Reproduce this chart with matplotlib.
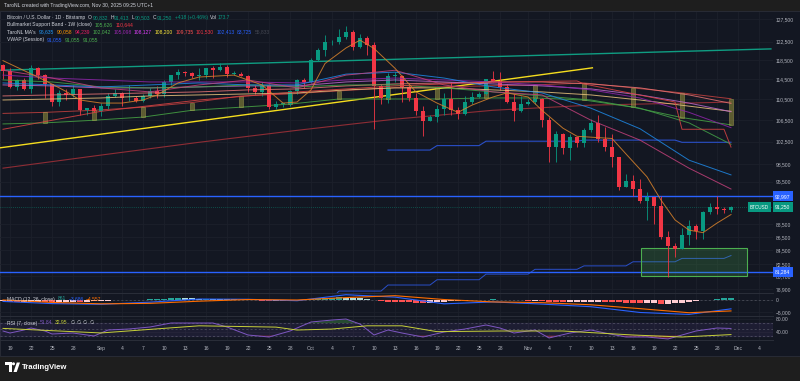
import matplotlib
matplotlib.use("Agg")
import matplotlib.pyplot as plt
from matplotlib.patches import Rectangle, Ellipse, Polygon
from matplotlib.ticker import NullLocator
import numpy as np

plt.rcParams['font.family'] = ['Liberation Sans', 'DejaVu Sans']

W, H = 800, 381
FOND = '#131722'
GRILLE = '#1c202b'
TEXTE = '#b2b5be'
VERT = '#089981'
ROUGE = '#f23645'

# Jours comptés depuis le 19 août 2025 (0 = 19 août). Prix en milliers de dollars.
jours = list(range(-1, 104))
ouv = [117.4, 116.3, 112.9, 114.3, 112.5, 116.9, 115.4, 113.5, 110.1, 111.8, 111.3, 112.6, 108.4, 108.8,
       108.3, 109.2, 111.2, 111.7, 110.7, 110.7, 110.2, 111.1, 112.1, 111.5, 113.9, 115.5, 116.1, 115.9,
       115.3, 115.4, 116.8, 116.5, 117.1, 115.7, 115.7, 115.3, 112.7, 112.0, 113.3, 109.0, 109.7, 109.7,
       112.1, 114.4, 114.0, 118.6, 120.6, 122.3, 122.4, 123.5, 124.7, 121.4, 123.3, 121.7, 113.2, 110.7,
       115.2, 115.3, 113.0, 110.8, 108.2, 106.4, 107.2, 108.7, 110.6, 108.5, 107.6, 110.1, 111.0, 111.6,
       114.5, 114.1, 112.9, 110.0, 108.3, 109.6, 110.1, 110.6, 106.5, 101.5, 103.9, 101.3, 103.4, 102.3,
       104.7, 106.0, 103.0, 101.6, 99.7, 94.5, 95.6, 94.2, 92.2, 92.9, 91.5, 86.6, 85.1, 84.7, 86.8,
       88.3, 87.4, 90.5, 91.3, 90.9, 90.832]
haut = [117.6, 116.8, 114.6, 114.8, 117.4, 117.0, 115.7, 113.6, 112.4, 112.6, 113.3, 112.6, 108.9, 109.5,
        109.9, 111.8, 112.6, 112.0, 113.4, 111.2, 111.6, 112.8, 113.2, 114.3, 115.5, 116.7, 116.3, 116.0,
        116.8, 116.9, 117.3, 117.9, 117.5, 116.2, 116.0, 115.4, 113.3, 113.9, 113.5, 110.3, 109.8, 112.4,
        114.5, 114.8, 118.9, 121.0, 123.9, 122.9, 125.2, 126.0, 125.0, 124.1, 123.7, 122.5, 113.5, 115.8,
        116.0, 115.5, 113.6, 111.8, 109.2, 107.5, 109.4, 111.7, 114.0, 109.1, 111.2, 112.0, 111.9, 114.6,
        116.3, 116.1, 113.6, 111.5, 111.1, 110.6, 111.2, 110.8, 107.2, 104.5, 104.1, 104.0, 103.4, 105.0,
        106.7, 107.5, 105.3, 104.0, 99.8, 96.8, 96.6, 96.0, 93.8, 92.9, 93.1, 87.5, 85.6, 88.0, 89.2,
        88.5, 90.6, 91.9, 93.0, 91.2, 91.413]
bas = [114.7, 112.7, 112.4, 112.4, 111.7, 114.6, 110.7, 109.3, 109.3, 110.4, 110.9, 107.4, 107.5, 108.1,
       107.3, 108.6, 110.9, 109.3, 110.2, 110.0, 110.1, 110.7, 110.8, 110.9, 113.4, 114.7, 115.2, 114.8,
       114.4, 114.8, 114.8, 116.3, 115.1, 115.5, 115.2, 112.0, 111.5, 111.1, 108.7, 108.6, 109.1, 109.3,
       111.6, 112.7, 113.8, 118.4, 119.3, 121.7, 122.0, 123.0, 120.6, 121.1, 119.7, 104.8, 109.7, 109.8,
       113.9, 110.1, 110.2, 107.5, 103.6, 106.4, 106.1, 107.5, 107.4, 106.7, 107.5, 109.7, 110.7, 111.3,
       114.0, 112.3, 109.9, 106.3, 108.1, 109.4, 109.7, 105.3, 98.9, 98.8, 100.3, 99.3, 101.5, 101.5,
       104.3, 102.5, 100.8, 98.0, 94.0, 94.5, 93.0, 91.9, 89.2, 88.6, 86.2, 80.6, 83.5, 84.7, 85.3,
       86.2, 86.3, 90.1, 90.2, 90.3, 90.503]
clot = [116.3, 112.9, 114.3, 112.5, 116.9, 115.4, 113.5, 110.1, 111.8, 111.3, 112.6, 108.4, 108.8, 108.3,
        109.2, 111.2, 111.7, 110.7, 110.7, 110.2, 111.1, 112.1, 111.5, 113.9, 115.5, 116.1, 115.9, 115.3,
        115.4, 116.8, 116.5, 117.1, 115.7, 115.7, 115.3, 112.7, 112.0, 113.3, 109.0, 109.7, 109.7, 112.1,
        114.4, 114.0, 118.6, 120.6, 122.3, 122.4, 123.5, 124.7, 121.4, 123.3, 121.7, 113.2, 110.7, 115.2,
        115.3, 113.0, 110.8, 108.2, 106.4, 107.2, 108.7, 110.6, 108.5, 107.6, 110.1, 111.0, 111.6, 114.5,
        114.1, 112.9, 110.0, 108.3, 109.6, 110.1, 110.6, 106.5, 101.5, 103.9, 101.3, 103.4, 102.3, 104.7,
        106.0, 103.0, 101.6, 99.7, 94.5, 95.6, 94.2, 92.2, 92.9, 91.5, 86.6, 85.1, 84.7, 86.8, 88.3,
        87.4, 90.5, 91.3, 90.9, 90.8, 91.25]

# Moyennes mobiles (un point par semaine)
jours_ma = [-1, 6, 13, 20, 27, 34, 41, 48, 55, 62, 69, 76, 83, 90, 97, 103]
ma_bleue = [113.8, 113.4, 113.0, 113.4, 113.8, 113.4, 113.4, 115.6, 116.0, 114.8, 113.0, 111.8, 108.8, 104.9, 99.2, 96.635]
ma_rose = [116.4, 114.8, 112.8, 112.0, 113.4, 114.4, 112.8, 115.4, 116.4, 113.4, 112.0, 111.4, 106.5, 102.8, 97.8, 94.239]
ma_verte = [114.4, 114.0, 113.0, 112.8, 113.0, 113.4, 113.0, 113.4, 113.4, 112.8, 112.0, 111.2, 110.4, 108.8, 106.0, 102.042]
ma_pourpre = [115.4, 114.8, 114.4, 114.0, 114.0, 114.0, 113.8, 114.4, 114.8, 114.4, 114.0, 113.4, 112.4, 110.8, 108.0, 105.098]
ma_violette = [113.4, 113.2, 112.8, 112.8, 113.0, 113.2, 113.2, 114.0, 114.4, 114.0, 113.6, 113.2, 112.6, 111.4, 109.8, 108.127]
ma_jaune = [110.4, 110.6, 110.8, 111.2, 111.4, 111.6, 111.8, 112.4, 112.8, 112.8, 112.4, 112.0, 111.4, 110.4, 109.2, 108.2]
ma_saumon = [111.2, 111.4, 111.6, 111.8, 112.0, 112.4, 112.6, 113.2, 113.6, 113.8, 114.0, 114.0, 113.6, 112.8, 111.4, 109.735]

jours_orange = [-1, 5, 8, 10, 13, 16, 19, 21, 24, 27, 32, 36, 39, 41, 43, 45, 48, 50, 52, 55,
                58, 61, 64, 66, 69, 71, 74, 76, 79, 81, 86, 88, 91, 93, 95, 97, 99, 101, 103]
ma_orange = [118.4, 114.3, 112.1, 110.4, 109.8, 109.8, 110.4, 111.4, 113.8, 115.0, 115.4, 113.4, 109.8, 110.0,
             112.4, 117.8, 121.1, 122.8, 121.0, 116.8, 112.0, 109.8, 108.0, 109.4, 111.0, 111.8, 111.0, 108.4,
             105.0, 103.5, 103.1, 100.3, 96.3, 92.4, 89.2, 87.6, 87.2, 88.7, 90.058]

jours_rouge = [-1, 13, 27, 41, 55, 69, 81, 82, 95, 96, 102, 103]
ma_rouge = [104.8, 108.2, 110.4, 112.0, 113.2, 114.0, 114.2, 113.6, 110.0, 104.8, 104.8, 101.53]

jours_bordeaux = [-1, 13, 27, 41, 55, 69, 83, 97, 103]
ma_bordeaux = [97.8, 100.1, 102.4, 104.6, 106.7, 108.4, 109.4, 109.8, 110.0]

# Bullmarket Support Band (valeurs hebdomadaires, dimanches)
semaines = [-1, 5, 12, 19, 26, 33, 40, 47, 54, 61, 68, 75, 82, 89, 96, 103]
bande_haut = [107.8, 108.0, 108.4, 109.0, 109.9, 111.2, 111.6, 112.2, 112.8, 113.0, 113.2, 113.4, 113.8, 112.8, 111.8, 110.644]
bande_bas = [105.8, 106.0, 106.5, 107.1, 108.4, 109.0, 109.6, 110.6, 110.6, 110.6, 110.8, 110.8, 110.4, 109.0, 107.0, 105.626]

# lignes en escalier
sem_bleu_haut = [54, 61, 68, 75, 82, 89, 96, 103]
bleu_haut = [101.0, 101.8, 102.6, 102.6, 102.8, 102.8, 102.4, 102.413]
sem_bleu_bas = [40, 47, 54, 61, 68, 75, 82, 89, 96, 103]
bleu_bas = [77.6, 78.6, 79.45, 80.2, 81.0, 81.7, 82.2, 82.8, 83.3, 83.725]

# dessins : droites, niveaux, zone
droite_turquoise = ([-1.43, 108.7], [116.4, 120.9])
droite_jaune = ([-1.43, 83.2], [101.4, 116.9])
niveau_haut = 92.997
niveau_bas = 81.284
dernier_prix = 91.25
zone_j = (90.1, 105.3)
zone_prix = (80.8, 84.9)

# MACD
macd = [-600, -1500, -1800, -900, 400, 300, -300, 2200, 1200, -1600, -800, -1700, -2800, -5200, -6000, -3686]
signal = [0, -1000, -1600, -1400, -500, 200, 0, 1000, 1800, 200, -800, -1100, -2000, -3600, -5300, -4557]
histo = [-600, -800, -900, -900, -700, -700, -800, -900, -800, -700, -700, -800, -700, -600,
         -500, -300, -150, -50, 50, 100, 200, 300, 450, 600, 700, 750, 700, 650,
         600, 600, 550, 500, 400, 300, 150, 0, -100, -300, -400, -400, -250, -100, 50, 100,
         400, 700, 900, 1000, 1050, 1000, 850, 700, 500, -100, -500, -700, -800, -900, -1000,
         -1100, -1200, -1100, -900, -700, -600, -500, -300, -100, 100, 200, 250, 150, 0, -100, -200,
         -250, -250, -400, -700, -900, -1000, -1000, -950, -900, -800, -800, -850, -900, -1000, -1200,
         -1300, -1400, -1400, -1400, -1500, -1500, -1400, -1100, -800, -500, -200, 200, 500, 700, 861]

# RSI
jours_rsi = [-1, 0, 2, 3, 5, 6, 9, 12, 14, 17, 20, 23, 26, 29, 31, 34, 37, 40, 43, 46, 48, 50,
             52, 54, 56, 59, 62, 65, 68, 70, 72, 75, 77, 80, 83, 85, 88, 91, 94, 96, 98, 101, 103]
rsi = [44.0, 37.8, 47.1, 53.2, 44.0, 34.8, 37.8, 28.6, 47.1, 50.2, 56.3, 68.6, 68.6, 68.6, 56.3, 31.7,
       25.5, 44.0, 71.7, 77.8, 80.9, 65.5, 31.7, 47.1, 37.8, 25.5, 40.9, 50.2, 62.5, 53.2, 37.8, 47.1,
       22.5, 37.8, 47.1, 37.8, 25.5, 25.5, 19.4, 31.7, 44.0, 53.2, 51.84]
jours_rsi_ma = [-1, 13, 27, 38, 41, 46, 51, 56, 61, 70, 79, 89, 96, 103]
rsi_ma = [52, 38, 60, 56, 47, 50, 60, 60, 42, 44, 44, 31.7, 25.5, 32.95]

prix_ticks = [127.5, 122.5, 118.5, 114.5, 110.5, 106.5, 102.5, 98.5, 95.5, 88.5, 86.5, 84.5, 82.5, 80.7, 78.9]
prix_labels = ['127,500', '122,500', '118,500', '114,500', '110,500', '106,500', '102,500', '98,500',
               '95,500', '88,500', '86,500', '84,500', '82,500', '80,700', '78,900']
dates_pos = [0, 3, 6, 9, 13, 16, 19, 22, 25, 28, 31, 34, 37, 40, 43, 46, 49, 52, 55, 58, 61, 64, 67, 70,
             74, 77, 80, 83, 86, 89, 92, 95, 98, 101, 104, 107]
dates_lab = ['19', '22', '25', '28', 'Sep', '4', '7', '10', '13', '16', '19', '22', '25', '28', 'Oct',
             '4', '7', '10', '13', '16', '19', '22', '25', '28', 'Nov', '4', '7', '10', '13', '16',
             '19', '22', '25', '28', 'Dec', '4']


def fx(px):
    return px / W


def fy(py):
    return 1 - py / H


fig = plt.figure(figsize=(W / 100, H / 100), dpi=100, facecolor='#1e1e1e')
fig.patches.append(Rectangle((0, fy(356)), 1, fy(11) - fy(356), transform=fig.transFigure,
                             facecolor=FOND, edgecolor='#2a2e39', lw=0.6, zorder=-10))

larg = 773 / W
ax = fig.add_axes([0, fy(293), larg, fy(12) - fy(293)])
ax_macd = fig.add_axes([0, fy(316), larg, fy(293) - fy(316)], sharex=ax)
ax_rsi = fig.add_axes([0, fy(340), larg, fy(316) - fy(340)], sharex=ax)

for a in (ax, ax_macd, ax_rsi):
    a.set_facecolor('none')
    for s in a.spines.values():
        s.set_visible(False)
    a.set_axisbelow(True)
    a.grid(True, color=GRILLE, lw=0.6)
    a.yaxis.tick_right()
    a.tick_params(length=0, labelsize=3.6, labelcolor=TEXTE, pad=2)
    a.tick_params(axis='x', labelbottom=False)
for a in (ax_macd, ax_rsi):
    a.spines['top'].set_visible(True)
    a.spines['top'].set_color('#2a2e39')
    a.spines['top'].set_linewidth(0.7)
ax_rsi.spines['bottom'].set_visible(True)
ax_rsi.spines['bottom'].set_color('#2a2e39')
ax_rsi.spines['bottom'].set_linewidth(0.7)

# --- graphique principal ---
ax.set_yscale('log')
ax.set_xlim(-1.43, 109.0)
ax.set_ylim(78.33, 129.1)
ax.set_yticks(prix_ticks)
ax.set_yticklabels(prix_labels)
ax.yaxis.set_minor_locator(NullLocator())

ax.plot(*droite_turquoise, color='#0f9d82', lw=1.0, zorder=2)
ax.plot(*droite_jaune, color='#f5dd1e', lw=1.0, zorder=2)
ax.plot(jours_bordeaux, ma_bordeaux, color='#8e2d35', lw=0.8, zorder=2)

# bande de support
ax.plot(semaines, bande_haut, color='#a83a3a', lw=0.7, zorder=2)
ax.plot(semaines, bande_bas, color='#3f8f3f', lw=0.7, zorder=2)
hb = np.array(bande_haut[1:]) - np.array(bande_bas[1:])
ax.bar(semaines[1:], hb, bottom=bande_bas[1:], width=0.55, color='#8d8a3a', alpha=0.6,
       edgecolor='#c8c060', lw=0.4, zorder=2)


def escalier(sem, val):
    xs, ys = [], []
    for i in range(len(sem) - 1):
        xs += [sem[i], sem[i + 1] - 1]
        ys += [val[i], val[i]]
    xs.append(sem[-1])
    ys.append(val[-1])
    return xs, ys


ax.plot(*escalier(sem_bleu_haut, bleu_haut), color='#2a4fc9', lw=0.8, zorder=2)
ax.plot(*escalier(sem_bleu_bas, bleu_bas), color='#2a4fc9', lw=0.7, zorder=2)

ax.axhline(niveau_haut, color='#2962ff', lw=1.0, zorder=2)
ax.axhline(niveau_bas, color='#2962ff', lw=1.0, zorder=2)
ax.axhline(dernier_prix, color=VERT, lw=0.5, ls=(0, (1, 2)), alpha=0.8, zorder=2)

ax.add_patch(Rectangle((zone_j[0], zone_prix[0]), zone_j[1] - zone_j[0], zone_prix[1] - zone_prix[0],
                       facecolor='#4caf50', alpha=0.22, edgecolor='none', zorder=2))
ax.add_patch(Rectangle((zone_j[0], zone_prix[0]), zone_j[1] - zone_j[0], zone_prix[1] - zone_prix[0],
                       facecolor='none', edgecolor='#4caf50', lw=0.8, zorder=2))

# bougies
j = np.array(jours)
o = np.array(ouv)
c = np.array(clot)
coul = np.where(c >= o, VERT, ROUGE)
ax.vlines(j, bas, haut, colors=coul, lw=0.6, zorder=3)
ax.bar(j, np.maximum(np.abs(c - o), 0.12), bottom=np.minimum(o, c), width=0.7, color=coul, lw=0, zorder=3.1)

# moyennes mobiles
for jj, vv, col in [(jours_ma, ma_saumon, '#e57373'), (jours_ma, ma_jaune, '#e8c27c'),
                    (jours_ma, ma_violette, '#ba68c8'), (jours_ma, ma_pourpre, '#8e24aa'),
                    (jours_ma, ma_verte, '#43a047'), (jours_ma, ma_bleue, '#1e88e5'),
                    (jours_ma, ma_rose, '#c2407a'), (jours_rouge, ma_rouge, '#d84343'),
                    (jours_orange, ma_orange, '#d9822b')]:
    ax.plot(jj, vv, color=col, lw=0.7, alpha=0.85, zorder=4)


def etiquette(a, y, texte, couleur):
    a.text(1.0 + 2 / 773, y, texte, transform=a.get_yaxis_transform(), ha='left', va='center',
           fontsize=3.6, color='white', clip_on=False, zorder=10,
           bbox=dict(boxstyle='square,pad=0.5', fc=couleur, ec='none'))


etiquette(ax, niveau_haut, '92,997', '#2962ff')
etiquette(ax, dernier_prix, '91,250', VERT)
etiquette(ax, niveau_bas, '81,284', '#2962ff')
ax.text(769 / 773, dernier_prix, 'BTCUSD', transform=ax.get_yaxis_transform(), ha='right', va='center',
        fontsize=3.3, color='white', zorder=10, bbox=dict(boxstyle='square,pad=0.5', fc=VERT, ec='none'))

# --- MACD ---
ax_macd.set_ylim(-6667, 2917)
ax_macd.set_yticks([0, -5000])
ax_macd.set_yticklabels(['0', '\u22125,000'])
couleurs_h = []
for i, h in enumerate(histo):
    prec = histo[i - 1] if i > 0 else h
    if h >= 0:
        couleurs_h.append('#26a69a' if h >= prec else '#b2dfdb')
    else:
        couleurs_h.append('#ff5252' if h < prec else '#ffcdd2')
ax_macd.bar(jours, histo, width=0.8, color=couleurs_h, lw=0, zorder=2)
ax_macd.axhline(0, color='#787b86', lw=0.5, ls=(0, (3, 3)), alpha=0.6, zorder=1)
ax_macd.plot(jours_ma, macd, color='#2962ff', lw=0.8, zorder=3)
ax_macd.plot(jours_ma, signal, color='#ff6d00', lw=0.8, zorder=3)

# --- RSI ---
ax_rsi.set_ylim(16.3, 90.2)
ax_rsi.set_yticks([80, 40])
ax_rsi.set_yticklabels(['80.00', '40.00'])
ax_rsi.axhspan(30, 70, color='#7e57c2', alpha=0.1, zorder=1)
for niv in (70, 50, 30):
    ax_rsi.axhline(niv, color='#787b86', lw=0.5, ls=(0, (3, 3)), alpha=0.6, zorder=1)
jr = np.array(jours_rsi)
rv = np.array(rsi)
ax_rsi.fill_between(jr, rv, 70, where=rv > 70, interpolate=True, color='#4caf50', alpha=0.35, lw=0)
ax_rsi.fill_between(jr, rv, 30, where=rv < 30, interpolate=True, color='#f23645', alpha=0.35, lw=0)
ax_rsi.plot(jours_rsi, rsi, color='#7e57c2', lw=0.7, zorder=3)
ax_rsi.plot(jours_rsi_ma, rsi_ma, color='#c8d13a', lw=0.7, zorder=3)

ax_rsi.set_xticks(dates_pos)
ax_rsi.set_xticklabels(dates_lab)
ax_rsi.tick_params(axis='x', labelbottom=True, pad=4)

# --- textes ---
rend = fig.canvas.get_renderer()


def ligne(y_px, morceaux, x_px=7):
    x = x_px
    for texte, couleur, ecart in morceaux:
        t = fig.text(fx(x), fy(y_px), texte, color=couleur, fontsize=3.6, ha='left', va='center')
        x += t.get_window_extent(renderer=rend).width + ecart


GRIS = '#d1d4dc'
fig.text(fx(4), fy(5.5), 'TaroNL created with TradingView.com, Nov 30, 2025 09:25 UTC+1',
         color=GRIS, fontsize=3.6, ha='left', va='center')
ligne(17.5, [('Bitcoin / U.S. Dollar \u00b7 1D \u00b7 Bitstamp', GRIS, 3), ('O', GRIS, 0.3), ('90,832', VERT, 2.5),
             ('H', GRIS, 0.3), ('91,413', VERT, 2.5), ('L', GRIS, 0.3), ('90,503', VERT, 2.5),
             ('C', GRIS, 0.3), ('91,250', VERT, 2.5), ('+418 (+0.46%)', VERT, 2.5),
             ('Vol', GRIS, 0.3), ('173.7', VERT, 0)])
ligne(24.5, [('Bullmarket Support Band - 1W (close)', GRIS, 3), ('105,626', '#4caf50', 2.5),
             ('110,644', ROUGE, 0)])
ligne(32, [("TaroNL MA's", GRIS, 3), ('96,635', '#2196f3', 2.5), ('90,058', '#ff9800', 2.5),
           ('94,239', '#e91e63', 2.5), ('102,042', '#4caf50', 2.5), ('105,098', '#9c27b0', 2.5),
           ('108,127', '#e040fb', 2.5), ('108,200', '#ffeb3b', 2.5), ('109,735', '#ff5252', 2.5),
           ('101,530', '#f23645', 2.5), ('102,413', '#2962ff', 2.5), ('83,725', '#2962ff', 2.5),
           ('55,833', '#434651', 0)])
ligne(39.5, [('VWAP (Session)', GRIS, 3), ('91,055', '#2962ff', 2.5), ('91,055', '#4caf50', 2.5),
             ('91,055', '#4caf50', 0)])
ligne(299, [('MACD (12, 26, close)', GRIS, 3), ('861', '#26a69a', 2.5), ('\u22123,686', '#2962ff', 2.5),
            ('\u22124,557', '#ff6d00', 0)])
ligne(323, [('RSI (7, close)', GRIS, 3), ('51.84', '#7e57c2', 2.5), ('32.95', '#c8d13a', 2.5),
            ('\u2205', GRIS, 2), ('\u2205', GRIS, 2), ('\u2205', GRIS, 2), ('\u2205', GRIS, 0)])

# logo TradingView
blanc = 'white'
fig.patches.append(Rectangle((fx(5), fy(365)), 6.5 / W, 3 / H, transform=fig.transFigure, fc=blanc, ec='none'))
fig.patches.append(Rectangle((fx(8.5), fy(372)), 3 / W, 9 / H, transform=fig.transFigure, fc=blanc, ec='none'))
fig.patches.append(Ellipse((fx(13.5), fy(363.8)), 3 / W, 3 / H, transform=fig.transFigure, fc=blanc, ec='none'))
fig.patches.append(Polygon([(fx(13.5), fy(372)), (fx(16.8), fy(362.5)), (fx(20), fy(362.5)), (fx(16.7), fy(372))],
                           closed=True, transform=fig.transFigure, fc=blanc, ec='none'))
fig.text(fx(22), fy(367.5), 'TradingView', color=blanc, fontsize=5.6, fontweight='bold', ha='left', va='center')

fig.savefig('out.png', dpi=100, facecolor=fig.get_facecolor())
